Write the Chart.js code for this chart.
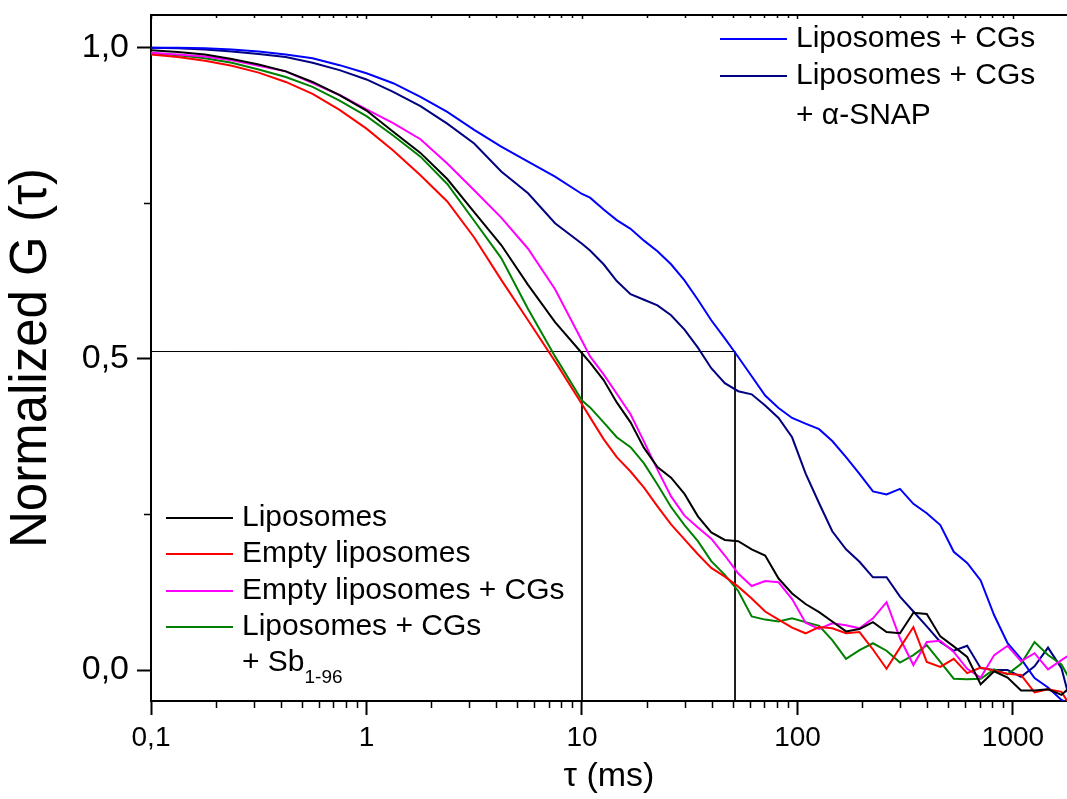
<!DOCTYPE html>
<html>
<head>
<meta charset="utf-8">
<script src="https://cdn.jsdelivr.net/npm/chart.js@4.4.1/dist/chart.umd.min.js"></script>
<style>
  html, body { margin: 0; padding: 0; background: #fff; }
  #wrap { width: 1067px; height: 799px; }
</style>
</head>
<body>
<div id="wrap"><canvas id="chart" width="1067" height="799"></canvas></div>
<script>
// ---------------------------------------------------------------------------
// Data: lag time tau in ms, normalized G(tau)
// ---------------------------------------------------------------------------

const tau = [
  0.1, 0.133, 0.178, 0.237, 0.316, 0.422, 0.562, 0.75, 1, 1.33, 1.78, 2.37, 3.16, 4.22, 5.62, 7.5, 10,
  10.9, 12.6, 14.5, 16.8, 19.4, 22.4, 25.9, 29.9, 34.5, 39.8, 46.0, 53.1, 61.3, 70.8, 81.7, 94.4,
  109, 126, 145, 168, 194, 224, 259, 299, 345, 398, 460, 531, 613, 708, 818, 944,
  1090, 1259, 1454, 1679, 1939
];

const liposomes = [
  0.996, 0.993, 0.989, 0.982, 0.973, 0.962, 0.945, 0.924, 0.899, 0.865, 0.831, 0.789, 0.736, 0.683, 0.619, 0.559, 0.509,
  0.494, 0.466, 0.430, 0.398, 0.357, 0.326, 0.309, 0.283, 0.247, 0.221, 0.209, 0.207, 0.194, 0.184, 0.147, 0.123,
  0.106, 0.093, 0.078, 0.062, 0.066, 0.077, 0.061, 0.059, 0.092, 0.090, 0.054, 0.038, 0.021, -0.023, -0.002, -0.012,
  -0.033, -0.033, -0.031, -0.040, -0.02
];

const emptyLiposomes = [
  0.989, 0.985, 0.979, 0.971, 0.960, 0.945, 0.926, 0.900, 0.870, 0.835, 0.795, 0.753, 0.695, 0.627, 0.562, 0.496, 0.427,
  0.406, 0.371, 0.342, 0.319, 0.293, 0.263, 0.234, 0.210, 0.186, 0.164, 0.150, 0.134, 0.115, 0.094, 0.081, 0.068,
  0.059, 0.069, 0.067, 0.059, 0.061, 0.033, 0.002, 0.036, 0.069, 0.013, 0.005, 0.018, -0.005, 0.004, -0.001, -0.006,
  -0.008, -0.036, -0.031, -0.035, -0.07
];

const emptyLiposomesCGs = [
  0.992, 0.989, 0.986, 0.980, 0.971, 0.962, 0.943, 0.924, 0.901, 0.879, 0.853, 0.814, 0.771, 0.727, 0.677, 0.612, 0.529,
  0.504, 0.475, 0.444, 0.411, 0.367, 0.322, 0.279, 0.248, 0.229, 0.211, 0.184, 0.155, 0.135, 0.143, 0.141, 0.114,
  0.076, 0.066, 0.075, 0.072, 0.067, 0.083, 0.109, 0.051, 0.008, 0.045, 0.047, 0.029, 0.002, -0.012, 0.024, 0.039,
  0.014, 0.027, 0.001, 0.016, 0.03
];

const liposomesCGsSb = [
  0.991, 0.988, 0.983, 0.976, 0.965, 0.953, 0.937, 0.915, 0.890, 0.859, 0.825, 0.781, 0.722, 0.662, 0.580, 0.504, 0.433,
  0.422, 0.398, 0.374, 0.358, 0.332, 0.298, 0.262, 0.233, 0.207, 0.175, 0.153, 0.127, 0.086, 0.081, 0.078, 0.083,
  0.077, 0.071, 0.048, 0.018, 0.032, 0.043, 0.031, 0.012, 0.024, 0.040, 0.013, -0.014, -0.015, -0.014, 0.001, -0.007,
  0.010, 0.045, 0.024, 0.009, -0.03
];

const liposomesCGs = [
  1.000, 1.000, 0.999, 0.997, 0.994, 0.989, 0.983, 0.972, 0.959, 0.943, 0.921, 0.897, 0.868, 0.841, 0.817, 0.793, 0.765,
  0.759, 0.740, 0.723, 0.709, 0.690, 0.673, 0.652, 0.626, 0.595, 0.562, 0.533, 0.503, 0.472, 0.441, 0.421, 0.405,
  0.396, 0.387, 0.368, 0.342, 0.315, 0.287, 0.282, 0.291, 0.267, 0.252, 0.233, 0.190, 0.172, 0.144, 0.088, 0.043,
  0.018, -0.013, -0.028, -0.048, -0.06
];

const liposomesCGsSnap = [
  1.000, 0.999, 0.997, 0.994, 0.990, 0.985, 0.976, 0.964, 0.949, 0.929, 0.906, 0.878, 0.846, 0.801, 0.766, 0.718, 0.685,
  0.674, 0.652, 0.625, 0.604, 0.595, 0.586, 0.570, 0.547, 0.518, 0.485, 0.461, 0.448, 0.443, 0.425, 0.405, 0.374,
  0.316, 0.268, 0.223, 0.194, 0.174, 0.149, 0.149, 0.118, 0.094, 0.070, 0.045, 0.031, 0.039, 0.003, 0.000, 0.000,
  -0.011, 0.006, 0.036, 0.003, -0.08
];

// half-decay guide lines
const guideLevel = 0.5118;
const guideTau = [10, 51.3];

// axes
const xTickValues = [0.1, 1, 10, 100, 1000];
const xTickLabels = ["0,1", "1", "10", "100", "1000"];
const yTickValues = [0, 0.5, 1.0];
const yTickLabels = ["0,0", "0,5", "1,0"];
const yMinorValues = [0.25, 0.75];

// legends
const lowerLegendLabels = ["Liposomes", "Empty liposomes", "Empty liposomes + CGs", "Liposomes + CGs"];
const upperLegendLabels = ["Liposomes + CGs", "Liposomes + CGs"];

// ---------------------------------------------------------------------------
// Helpers
// ---------------------------------------------------------------------------

const FONT = "'Liberation Sans', Arial, sans-serif";
const X_MIN = 0.1, X_MAX = 1781;

function points(values) {
  return values.map((v, i) => ({ x: tau[i], y: v }));
}

function series(label, values, color) {
  return {
    label, data: points(values), borderColor: color, backgroundColor: color,
    borderWidth: 2, pointRadius: 0, tension: 0, fill: false,
  };
}

function guide(data) {
  return { label: "", data, borderColor: "#000", borderWidth: 1, pointRadius: 0, tension: 0, fill: false };
}

const xMinorValues = [];
xTickValues.forEach((d) => {
  for (let k = 2; k <= 9; k++) if (d * k <= X_MAX) xMinorValues.push(d * k);
});

// ---------------------------------------------------------------------------
// Frame: minor ticks, top border, legends
// ---------------------------------------------------------------------------

const frame = {
  id: "frame",
  afterDraw(chart) {
    const { ctx, chartArea: a, scales: { x, y } } = chart;
    ctx.save();
    ctx.strokeStyle = "#000";
    ctx.lineWidth = 2;
    ctx.beginPath();
    ctx.moveTo(a.left - 1, a.top);
    ctx.lineTo(a.right, a.top);
    ctx.stroke();

    ctx.lineWidth = 1.5;
    ctx.beginPath();
    xMinorValues.forEach((v) => {
      const px = Math.round(x.getPixelForValue(v)) + 0.5;
      ctx.moveTo(px, a.bottom); ctx.lineTo(px, a.bottom + 7);
      ctx.moveTo(px, a.top); ctx.lineTo(px, a.top + 3);
    });
    xTickValues.forEach((v) => {
      const px = Math.round(x.getPixelForValue(v)) + 0.5;
      ctx.moveTo(px, a.top); ctx.lineTo(px, a.top + 4);
    });
    yMinorValues.forEach((v) => {
      const py = Math.round(y.getPixelForValue(v)) + 0.5;
      ctx.moveTo(a.left - 7, py); ctx.lineTo(a.left, py);
    });
    ctx.stroke();

    // legends
    const row = (x0, yc, color, text) => {
      ctx.strokeStyle = color;
      ctx.lineWidth = 2;
      ctx.beginPath();
      ctx.moveTo(x0, yc); ctx.lineTo(x0 + 67, yc);
      ctx.stroke();
      ctx.fillStyle = "#000";
      ctx.font = "30px " + FONT;
      ctx.textBaseline = "middle";
      ctx.textAlign = "left";
      ctx.fillText(text, x0 + 76, yc);
    };
    const lowerColors = ["#000000", "#ff0000", "#ff00ff", "#008000"];
    const lowerRows = [518, 554, 591, 627];
    lowerLegendLabels.forEach((t, i) => row(166, lowerRows[i], lowerColors[i], t));
    ctx.font = "30px " + FONT;
    ctx.fillText("+ Sb", 242, 663);
    const w = ctx.measureText("+ Sb").width;
    ctx.font = "19px " + FONT;
    ctx.fillText("1-96", 242 + w, 678);

    const upperColors = ["#0000ff", "#000080"];
    const upperRows = [39, 76];
    upperLegendLabels.forEach((t, i) => row(720, upperRows[i], upperColors[i], t));
    ctx.font = "30px " + FONT;
    ctx.fillText("+ α-SNAP", 796, 116);
    ctx.restore();
  },
};

// ---------------------------------------------------------------------------
// Chart
// ---------------------------------------------------------------------------

new Chart(document.getElementById("chart"), {
  type: "line",
  data: {
    datasets: [
      series("Liposomes", liposomes, "#000000"),
      series("Empty liposomes", emptyLiposomes, "#ff0000"),
      series("Empty liposomes + CGs", emptyLiposomesCGs, "#ff00ff"),
      series("Liposomes + CGs + Sb1-96", liposomesCGsSb, "#008000"),
      series("Liposomes + CGs", liposomesCGs, "#0000ff"),
      series("Liposomes + CGs + α-SNAP", liposomesCGsSnap, "#000080"),
      guide([{ x: X_MIN, y: guideLevel }, { x: guideTau[1], y: guideLevel }, { x: guideTau[1], y: -0.1 }]),
      guide([{ x: guideTau[0], y: guideLevel }, { x: guideTau[0], y: -0.1 }]),
    ],
  },
  options: {
    responsive: false,
    animation: false,
    events: [],
    layout: { autoPadding: false, padding: { left: 0, right: 0, top: 15, bottom: 0 } },
    plugins: { legend: { display: false }, tooltip: { enabled: false } },
    scales: {
      x: {
        type: "logarithmic",
        min: X_MIN,
        max: X_MAX,
        afterBuildTicks: (s) => { s.ticks = xTickValues.map((v) => ({ value: v, major: true })); },
        afterFit: (s) => { s.height = 98; s.paddingLeft = 0; s.paddingRight = 0; },
        ticks: {
          autoSkip: false, maxRotation: 0, padding: 6, color: "#000",
          font: { family: FONT, size: 28 },
          callback: (v) => { const i = xTickValues.indexOf(v); return i >= 0 ? xTickLabels[i] : ""; },
        },
        grid: { drawOnChartArea: false, tickLength: 14, tickWidth: 2, tickColor: "#000" },
        border: { color: "#000", width: 2 },
        title: { display: true, text: "τ (ms)", color: "#000", font: { family: FONT, size: 34 }, padding: { top: 0, bottom: 2 } },
      },
      y: {
        type: "linear",
        min: -0.0498,
        max: 1.0526,
        afterBuildTicks: (s) => { s.ticks = yTickValues.map((v) => ({ value: v })); },
        afterFit: (s) => { s.width = 151; s.paddingTop = 0; s.paddingBottom = 0; },
        ticks: {
          padding: 8, color: "#000",
          font: { family: FONT, size: 34 },
          callback: (v) => { const i = yTickValues.indexOf(v); return i >= 0 ? yTickLabels[i] : ""; },
        },
        grid: { drawOnChartArea: false, tickLength: 14, tickWidth: 2, tickColor: "#000" },
        border: { color: "#000", width: 2 },
        title: { display: true, text: "Normalized G (τ)", color: "#000", font: { family: FONT, size: 51 }, padding: { top: 1, bottom: 0 } },
      },
    },
  },
  plugins: [frame],
});
</script>
</body>
</html>
